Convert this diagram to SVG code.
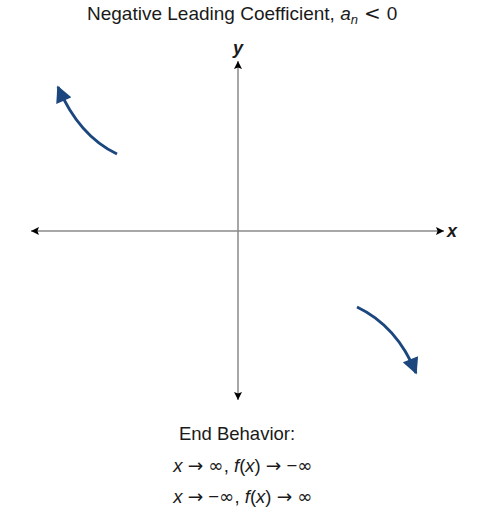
<svg xmlns="http://www.w3.org/2000/svg" width="487" height="515" viewBox="0 0 487 515">
<style>
text{font-family:"Liberation Sans",Arial,sans-serif;fill:#1a1a1a}
.axis{stroke:#8a8a8a;stroke-width:1.5;fill:none}
.curve{stroke:#1c477e;stroke-width:3;fill:none}
.lbl{font-size:18px;font-style:italic;font-weight:bold}
.m{font-family:"DejaVu Sans",sans-serif}
.i{font-style:italic}
</style>
<defs>
<marker id="ah" viewBox="0 0 10 10" refX="10" refY="5" markerWidth="14" markerHeight="8" markerUnits="userSpaceOnUse" orient="auto"><path d="M0,0 L10,5 L0,10 L2,5 Z" fill="#000"/></marker>
<marker id="ch" viewBox="0 0 10 10" refX="9" refY="5" markerWidth="6" markerHeight="5.5" orient="auto"><path d="M0,0 L10,5 L0,10 Z" fill="#1c477e"/></marker>
</defs>
<text x="87" y="20" font-size="19">Negative Leading Coefficient, <tspan class="i">a</tspan><tspan class="i" font-size="13" dy="4">n</tspan><tspan dy="-4" dx="6" class="m" font-size="20">&lt;</tspan><tspan dx="6">0</tspan></text>
<g id="connectors">
<line class="axis" x1="238" y1="231" x2="31" y2="231" marker-end="url(#ah)"/>
<line class="axis" x1="238" y1="231" x2="444" y2="231" marker-end="url(#ah)"/>
<line class="axis" x1="238" y1="231" x2="238" y2="61" marker-end="url(#ah)"/>
<line class="axis" x1="238" y1="231" x2="238" y2="400" marker-end="url(#ah)"/>
<path class="curve" d="M117,154 Q79,136 58,87" marker-end="url(#ch)"/>
<path class="curve" d="M357,307 Q397,326 416,373" marker-end="url(#ch)"/>
</g>
<g id="y-label"><text class="lbl" x="238" y="54" text-anchor="middle">y</text></g>
<g id="x-label"><text class="lbl" x="447" y="237">x</text></g>
<g id="end-behavior">
<text x="237" y="440" font-size="18.5" text-anchor="middle">End Behavior:</text>
<text x="243" y="472" font-size="18.5" text-anchor="middle"><tspan class="i">x</tspan> <tspan class="m">→</tspan> <tspan class="m">∞</tspan>, <tspan class="i">f</tspan>(<tspan class="i">x</tspan>) <tspan class="m">→</tspan> −<tspan class="m">∞</tspan></text>
<text x="243" y="503" font-size="18.5" text-anchor="middle"><tspan class="i">x</tspan> <tspan class="m">→</tspan> −<tspan class="m">∞</tspan>, <tspan class="i">f</tspan>(<tspan class="i">x</tspan>) <tspan class="m">→</tspan> <tspan class="m">∞</tspan></text>
</g>
</svg>
